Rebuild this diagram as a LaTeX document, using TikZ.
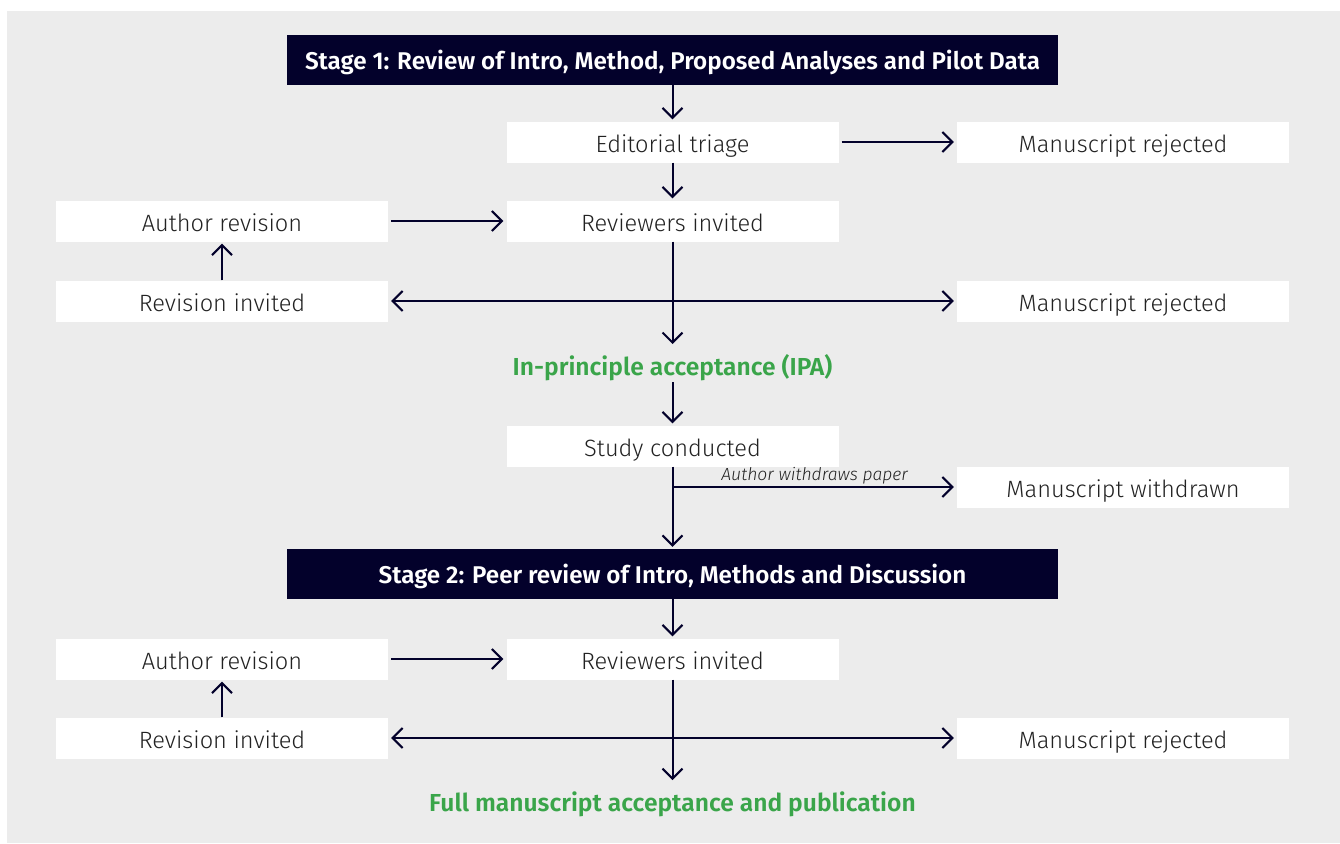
\documentclass[tikz,border=0pt]{standalone}
\usepackage{fontspec}
\setmainfont{Fira Sans}[UprightFont=* Light, ItalicFont=* Light Italic, BoldFont=* SemiBold]
\usetikzlibrary{arrows.meta}
\definecolor{navy}{HTML}{03012B}
\definecolor{panel}{HTML}{ECECEC}
\definecolor{okgreen}{HTML}{3AA54A}
\definecolor{ink}{HTML}{222222}
\tikzset{
  stepbox/.style={fill=white, minimum width=332pt, minimum height=41pt, inner sep=0pt,
    text height=25pt, text depth=4pt,
    text=ink, font=\fontsize{23.6}{28}\selectfont},
  stagebox/.style={fill=navy, minimum width=771pt, minimum height=50pt, inner sep=0pt,
    text height=22pt, text depth=3.4pt,
    text=white, font=\fontsize{24.2}{29}\selectfont\bfseries},
  outcome/.style={text=okgreen, inner sep=0pt, text height=20pt, text depth=4pt,
    font=\fontsize{24.6}{29}\selectfont\bfseries},
  flow/.style={draw=navy, line width=2pt, -{Straight Barb[length=10pt,width=20pt,line width=2pt]}},
  both/.style={draw=navy, line width=2pt, {Straight Barb[length=10pt,width=20pt,line width=2pt]}-{Straight Barb[length=10pt,width=20pt,line width=2pt]}},
  link/.style={draw=navy, line width=2pt},
}
\begin{document}
\begin{tikzpicture}[x=1pt,y=-1pt]
\useasboundingbox (0,0) rectangle (1340,843);
\fill[panel] (7,11) rectangle (1340,843);

% Stage 1
\node[stagebox] (s1) at (672.5,60) {Stage 1: Review of Intro, Method, Proposed Analyses and Pilot Data};
\node[stepbox] (triage) at (672.5,142) {Editorial triage};
\node[stepbox] (rej1) at (1123,142) {Manuscript rejected};
\node[stepbox] (rev1) at (672.5,221) {Reviewers invited};
\node[stepbox] (auth1) at (222,221) {Author revision};
\node[stepbox] (inv1) at (222,301) {Revision invited};
\node[stepbox] (rej2) at (1123,301) {Manuscript rejected};
\node[outcome] (ipa) at (672.5,367) {In-principle acceptance (IPA)};
\node[stepbox] (study) at (672.5,446) {Study conducted};
\node[stepbox] (wd) at (1123,487) {Manuscript withdrawn};

% Stage 2
\node[stagebox] (s2) at (672.5,574) {Stage 2: Peer review of Intro, Methods and Discussion};
\node[stepbox] (rev2) at (672.5,659) {Reviewers invited};
\node[stepbox] (auth2) at (222,659) {Author revision};
\node[stepbox] (inv2) at (222,738) {Revision invited};
\node[stepbox] (rej3) at (1123,738) {Manuscript rejected};
\node[outcome] (full) at (672.5,803) {Full manuscript acceptance and publication};

% Stage 1 connectors
\draw[flow, shorten >=2pt] (s1.south) -- (triage.north);
\draw[flow, shorten <=3pt, shorten >=3pt] (triage.east) -- (rej1.west);
\draw[flow, shorten >=2pt] (triage.south) -- (rev1.north);
\draw[flow, shorten <=3pt, shorten >=3pt] (auth1.east) -- (rev1.west);
\draw[flow, shorten >=2pt] (inv1.north) -- (auth1.south);
\draw[both, shorten <=3pt, shorten >=3pt] (inv1.east) -- (rej2.west);
\draw[flow, shorten >=23pt] (rev1.south) -- (ipa.center);
\draw[flow, shorten <=15pt, shorten >=2pt] (ipa.center) -- (study.north);
\coordinate (split) at (study.south |- wd.west);
\draw[link] (study.south) -- (split);
\draw[flow, shorten >=3pt] (split) -- node[above=0pt, pos=0.5, text=ink, inner sep=2pt, font=\fontsize{17.5}{21}\selectfont\itshape] {Author withdraws paper} (wd.west);
\draw[flow, shorten >=2pt] (split) -- (s2.north);

% Stage 2 connectors
\draw[flow, shorten >=2pt] (s2.south) -- (rev2.north);
\draw[flow, shorten <=3pt, shorten >=3pt] (auth2.east) -- (rev2.west);
\draw[flow, shorten >=2pt] (inv2.north) -- (auth2.south);
\draw[both, shorten <=3pt, shorten >=3pt] (inv2.east) -- (rej3.west);
\draw[flow, shorten >=23pt] (rev2.south) -- (full.center);
\end{tikzpicture}
\end{document}
